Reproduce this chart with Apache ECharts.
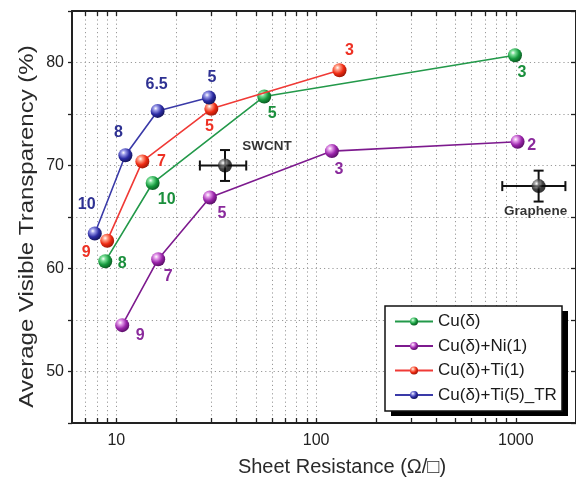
<!DOCTYPE html>
<html>
<head>
<meta charset="utf-8">
<style>
  html, body { margin: 0; padding: 0; background: #fff; }
  #chart { width: 576px; height: 479px; }
</style>
<script src="https://cdn.jsdelivr.net/npm/echarts@6/dist/echarts.min.js"></script>
</head>
<body>
<div id="chart"></div>
<script>
// Sheet resistance (ohm/sq) and average visible transparency (%) per film stack.
// The small numbers beside each point are film thicknesses (nm).
const seriesNames = ['Cu(δ)', 'Cu(δ)+Ni(1)', 'Cu(δ)+Ti(1)', 'Cu(δ)+Ti(5)_TR'];

const cuR = [8.8, 15.2, 55, 990];
const cuT = [60.7, 68.3, 76.7, 80.7];
const cuLabels = ['8', '10', '5', '3'];

const niR = [10.7, 16.2, 29.4, 120, 1020];
const niT = [54.5, 60.9, 66.9, 71.4, 72.3];
const niLabels = ['9', '7', '5', '3', '2'];

const tiR = [9.0, 13.5, 29.9, 131];
const tiT = [62.7, 70.4, 75.5, 79.25];
const tiLabels = ['9', '7', '5', '3'];

const trR = [7.8, 11.1, 16.1, 29.1];
const trT = [63.4, 71.0, 75.3, 76.6];
const trLabels = ['10', '8', '6.5', '5'];

// Reference materials: [R, T, R low, R high, T low, T high]
const refNames = ['SWCNT', 'Graphene'];
const swcnt = [35, 70.0, 26.2, 44.7, 68.5, 71.5];
const graphene = [1300, 68.0, 855, 1770, 66.5, 69.5];

// Axis ticks
const xLabelTicks = [10, 100, 1000];
const xTicks = [7, 8, 9, 10, 20, 30, 40, 50, 60, 70, 80, 90, 100,
                200, 300, 400, 500, 600, 700, 800, 900, 1000];
const yLabelTicks = [50, 60, 70, 80];

// Label placement (pixel offsets from each point's centre)
const cuOffsets = [[17, 2], [14, 17], [8, 17], [7, 17]];
const niOffsets = [[18, 10], [10, 17], [12, 16], [7, 19], [14, 4]];
const tiOffsets = [[-21, 12], [19, 0], [-2, 18], [10, -20]];
const trOffsets = [[-8, -29], [-7, -23], [-1, -26], [3, -20]];

// Legend frame
const legendBox = { x: 385, y: 306, w: 177, h: 105 };

const FONT = '"Liberation Sans", Arial, Helvetica, sans-serif';

function sphere(light, base, dark) {
  return {
    type: 'radial', x: 0.36, y: 0.32, r: 0.72,
    colorStops: [
      { offset: 0, color: '#ffffff' },
      { offset: 0.22, color: light },
      { offset: 0.6, color: base },
      { offset: 1, color: dark }
    ]
  };
}

const palette = [
  { line: '#23994a', text: '#1a8f3c', ball: sphere('#7ee09a', '#169a3e', '#0a5520') },
  { line: '#7d1a8e', text: '#8a2a9c', ball: sphere('#e39ae9', '#9a24aa', '#550c62') },
  { line: '#f03a36', text: '#ee3124', ball: sphere('#ffa088', '#ee2a12', '#9a1606') },
  { line: '#3a3aa8', text: '#2e3192', ball: sphere('#9a9ae8', '#2c2ca4', '#121256') }
];

function lineSeries(idx, xs, ys, labels, offsets) {
  const c = palette[idx];
  return {
    name: seriesNames[idx],
    type: 'line',
    xAxisIndex: 0, yAxisIndex: 0,
    symbol: 'circle',
    symbolSize: 14,
    lineStyle: { color: c.line, width: 1.6 },
    itemStyle: { color: c.ball },
    z: 3 + idx,
    data: xs.map((x, i) => ({
      value: [x, ys[i]],
      label: { formatter: labels[i], offset: offsets[i] }
    })),
    label: {
      show: true, position: 'inside',
      fontFamily: FONT, fontWeight: 'bold', fontSize: 16, color: c.text,
      textBorderWidth: 0
    },
    emphasis: { disabled: true }
  };
}

// Error bars with end caps, positioned through the axis scales
function errorBarItem(params, api) {
  const x = api.value(0), y = api.value(1);
  const l = api.coord([api.value(2), y]);
  const r = api.coord([api.value(3), y]);
  const b = api.coord([x, api.value(4)]);
  const t = api.coord([x, api.value(5)]);
  const cap = 5;
  const st = { stroke: '#111', lineWidth: 2 };
  const seg = (x1, y1, x2, y2) => ({ type: 'line', shape: { x1, y1, x2, y2 }, style: st });
  return {
    type: 'group',
    children: [
      seg(l[0], l[1], r[0], r[1]),
      seg(l[0], l[1] - cap, l[0], l[1] + cap),
      seg(r[0], r[1] - cap, r[0], r[1] + cap),
      seg(t[0], t[1], b[0], b[1]),
      seg(t[0] - cap, t[1], t[0] + cap, t[1]),
      seg(b[0] - cap, b[1], b[0] + cap, b[1])
    ]
  };
}

const blackBall = sphere('#8a8a8a', '#111111', '#000000');

const chart = echarts.init(document.getElementById('chart'), null, { renderer: 'canvas' });

const option = {
  animation: false,
  backgroundColor: '#ffffff',
  textStyle: { fontFamily: FONT },
  grid: { left: 72, right: -3, top: 11, bottom: 56, containLabel: false },
  xAxis: [
    {
      type: 'log', min: 6, max: 2000, position: 'bottom',
      axisLine: { show: true, lineStyle: { color: '#222', width: 2 } },
      axisTick: { show: true, inside: true, length: 5, customValues: xTicks,
                  lineStyle: { color: '#222', width: 1.3 } },
      axisLabel: { show: true, customValues: xLabelTicks, fontFamily: FONT, fontSize: 16,
                   color: '#222', margin: 10, formatter: v => String(Math.round(v)) },
      splitLine: { show: true, lineStyle: { color: '#9a9a9a', width: 1, type: [1.2, 3] } },
      minorTick: { show: false }
    },
    {
      type: 'log', min: 6, max: 2000, position: 'top',
      axisLine: { show: true, lineStyle: { color: '#222', width: 2 } },
      axisTick: { show: true, inside: true, length: 5, customValues: xTicks,
                  lineStyle: { color: '#222', width: 1.3 } },
      axisLabel: { show: false },
      splitLine: { show: false }
    }
  ],
  yAxis: [
    {
      type: 'value', min: 45, max: 85, interval: 5, position: 'left',
      axisLine: { show: true, lineStyle: { color: '#222', width: 2 } },
      axisTick: { show: true, inside: false, length: 4, lineStyle: { color: '#222', width: 1.3 } },
      axisLabel: {
        fontFamily: FONT, fontSize: 16, color: '#222', margin: 8,
        formatter: v => (yLabelTicks.indexOf(v) >= 0 ? String(v) : '')
      },
      splitLine: { show: true, lineStyle: { color: '#9a9a9a', width: 1, type: [1.2, 3] } }
    },
    {
      type: 'value', min: 45, max: 85, interval: 5, position: 'right',
      axisLine: { show: true, lineStyle: { color: '#222', width: 2 } },
      axisTick: { show: true, inside: true, length: 5, lineStyle: { color: '#222', width: 1.3 } },
      axisLabel: { show: false },
      splitLine: { show: false }
    }
  ],
  legend: {
    data: seriesNames,
    orient: 'vertical',
    left: legendBox.x, top: legendBox.y,
    itemWidth: 38, itemHeight: 10, itemGap: 7.5,
    padding: [7, 4, 7, 9],
    backgroundColor: 'transparent',
    borderWidth: 0,
    z: 20,
    textStyle: { fontFamily: FONT, fontSize: 17, color: '#1a1a1a' },
    selectedMode: false
  },
  graphic: [
    {
      // drop shadow behind the legend frame
      type: 'rect', z: 15,
      shape: { x: legendBox.x + 6, y: legendBox.y + 5, width: legendBox.w, height: legendBox.h },
      style: { fill: '#000', stroke: null }
    },
    {
      type: 'rect', z: 16,
      shape: { x: legendBox.x, y: legendBox.y, width: legendBox.w, height: legendBox.h },
      style: { fill: '#fff', stroke: '#111', lineWidth: 1.5 }
    },
    {
      type: 'text', x: 342, y: 467, z: 10,
      style: { text: 'Sheet Resistance (Ω/□)', font: '20px ' + FONT, fill: '#2a2a2a',
               textAlign: 'center', textVerticalAlign: 'middle' }
    },
    {
      type: 'text', x: 27, y: 226.5, rotation: Math.PI / 2, scaleX: 1.2, z: 10,
      style: { text: 'Average Visible Transparency (%)', font: '20px ' + FONT, fill: '#2a2a2a',
               textAlign: 'center', textVerticalAlign: 'middle' }
    }
  ],
  series: [
    lineSeries(0, cuR, cuT, cuLabels, cuOffsets),
    lineSeries(1, niR, niT, niLabels, niOffsets),
    lineSeries(2, tiR, tiT, tiLabels, tiOffsets),
    lineSeries(3, trR, trT, trLabels, trOffsets),
    {
      name: 'reference-errors',
      type: 'custom',
      xAxisIndex: 0, yAxisIndex: 0,
      renderItem: errorBarItem,
      data: [swcnt, graphene],
      z: 8,
      silent: true
    },
    {
      name: 'reference-points',
      type: 'scatter',
      xAxisIndex: 0, yAxisIndex: 0,
      symbolSize: 14,
      itemStyle: { color: blackBall },
      z: 9,
      data: [
        { value: [swcnt[0], swcnt[1]], label: { formatter: refNames[0], offset: [42, -19] } },
        { value: [graphene[0], graphene[1]], label: { formatter: refNames[1], offset: [-3, 25] } }
      ],
      label: { show: true, position: 'inside', fontFamily: FONT, fontWeight: 'bold',
               fontSize: 13.5, color: '#000000', textBorderWidth: 0 },
      emphasis: { disabled: true }
    }
  ]
};

chart.setOption(option);
</script>
</body>
</html>
